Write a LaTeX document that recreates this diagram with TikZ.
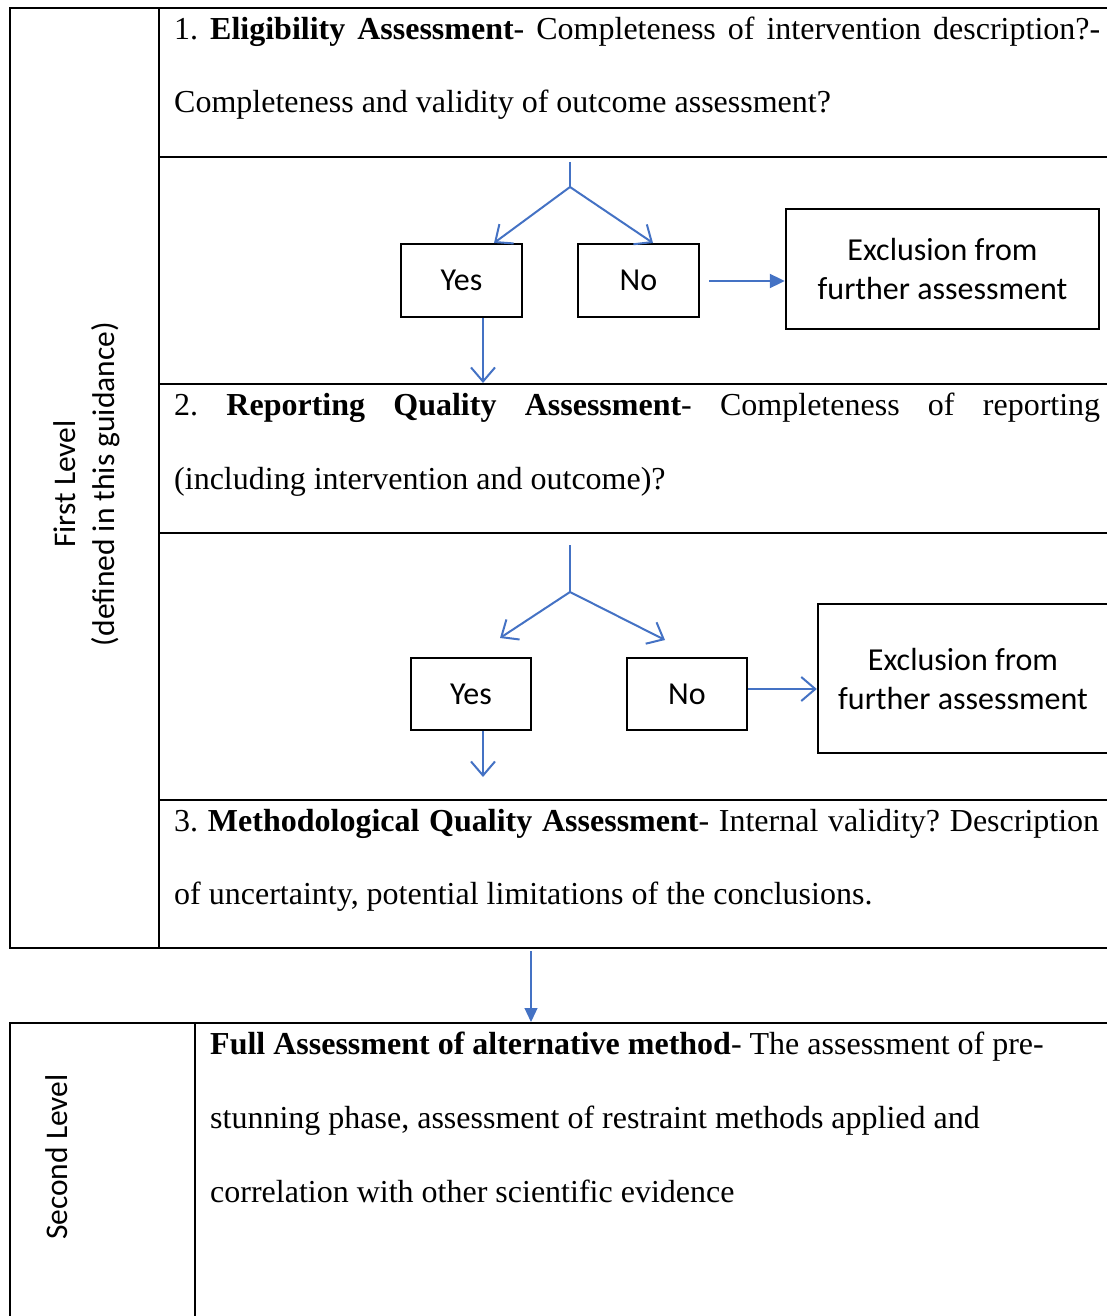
\documentclass[tikz,border=0pt]{standalone}
\usepackage{fontspec}
\setmainfont{Liberation Serif}
\newfontfamily\calibri{Carlito}
\usetikzlibrary{arrows.meta}
\definecolor{flowblue}{HTML}{4472C4}
\frenchspacing
\begin{document}
\begin{tikzpicture}[x=1pt,y=-1pt,
  rule/.style={line width=2.2pt},
  bodytext/.style={anchor=base west, inner sep=0pt, font=\fontsize{32}{74}\selectfont},
  choice/.style={draw, line width=2.4pt, minimum width=121pt, minimum height=73pt, inner sep=0pt,
    font=\calibri\fontsize{32}{39}\selectfont},
  exclbox/.style={draw, line width=2.4pt, inner sep=0pt, align=center,
    font=\calibri\fontsize{32}{39}\selectfont},
  sidelabel/.style={rotate=90, align=center, inner sep=0pt, font=\calibri\fontsize{31.5}{38.5}\selectfont},
  flow/.style={draw=flowblue, line width=2pt},
  barb/.style={flow, -{Straight Barb[length=14pt,width=24pt,line width=2pt]}},
  solidtip/.style={flow, -{Triangle[length=15pt,width=14pt]}}
]
\useasboundingbox (0,0) rectangle (1107,1316);
\clip (0,0) rectangle (1107,1316);

% ---------- first level table ----------
\draw[rule] (1120,8) -- (10,8) -- (10,948) -- (1120,948);
\draw[rule] (159,8) -- (159,948);
\foreach \yy in {157,384,533,800} \draw[rule] (159,\yy) -- (1120,\yy);

\node[sidelabel] (lvlone) at (87,484) {First Level\\(defined in this guidance)};

% row texts
\node[bodytext] (eligA) at (174,40) {\makebox[926pt][s]{1. \textbf{Eligibility Assessment}- Completeness of intervention description?-}};
\node[bodytext] (eligB) at (174,113) {Completeness and validity of outcome assessment?};

\node[bodytext] (repA) at (174,415) {\makebox[926pt][s]{2. \textbf{Reporting Quality Assessment}- Completeness of reporting}};
\node[bodytext] (repB) at (174,489) {(including intervention and outcome)?};

\node[bodytext] (methA) at (174,831) {\makebox[925pt][s]{3. \textbf{Methodological Quality Assessment}- Internal validity? Description}};
\node[bodytext] (methB) at (174,904) {of uncertainty, potential limitations of the conclusions.};

% ---------- first decision ----------
\node[choice] (yes1) at (461.5,280.5) {Yes};
\node[choice] (no1) at (638.5,280.5) {No};
\node[exclbox, minimum width=313pt, minimum height=120pt] (exc1) at (942.5,269) {Exclusion from\\further assessment};

\coordinate (stem1) at (570,162);
\coordinate (fork1) at (570,187);
\coordinate (yes1in) at (494,243);
\coordinate (no1in) at (653,243);
\coordinate (yes1out) at (483,383);
\coordinate (no1out) at (709,281);

\draw[flow] (stem1) -- (fork1);
\draw[barb] (fork1) -- (yes1in);
\draw[barb] (fork1) -- (no1in);
\draw[barb] (yes1.south -| yes1out) -- (yes1out);
\draw[solidtip] (no1out) -- (exc1.west |- no1out);

% ---------- second decision ----------
\node[choice, minimum width=120pt, minimum height=72pt] (yes2) at (471,694) {Yes};
\node[choice, minimum width=120pt, minimum height=72pt] (no2) at (687,694) {No};
\node[exclbox, minimum width=290pt, minimum height=149pt] (exc2) at (963,678.5) {Exclusion from\\further assessment};

\coordinate (stem2) at (570,545);
\coordinate (fork2) at (570,592);
\coordinate (yes2in) at (500,638);
\coordinate (no2in) at (665,640);
\coordinate (yes2out) at (483,777);

\draw[flow] (stem2) -- (fork2);
\draw[barb] (fork2) -- (yes2in);
\draw[barb] (fork2) -- (no2in);
\draw[barb] (yes2.south -| yes2out) -- (yes2out);
\draw[barb] (no2.east |- 0,689) -- (exc2.west |- 0,689);

% ---------- link between levels ----------
\coordinate (linkstart) at (531,951);
\coordinate (linkend) at (531,1022);
\draw[draw=flowblue, line width=1.2pt, -{Triangle[length=14pt,width=13pt]}] (linkstart) -- (linkend);

% ---------- second level table ----------
\draw[rule] (10,1330) -- (10,1023) -- (1120,1023);
\draw[rule] (195,1023) -- (195,1330);

\node[sidelabel] (lvltwo) at (57,1157) {Second Level};

\node[bodytext] (fullA) at (210,1054) {\textbf{Full Assessment of alternative method}- The assessment of pre-};
\node[bodytext] (fullB) at (210,1128) {stunning phase, assessment of restraint methods applied and};
\node[bodytext] (fullC) at (210,1202) {correlation with other scientific evidence};
\end{tikzpicture}
\end{document}
